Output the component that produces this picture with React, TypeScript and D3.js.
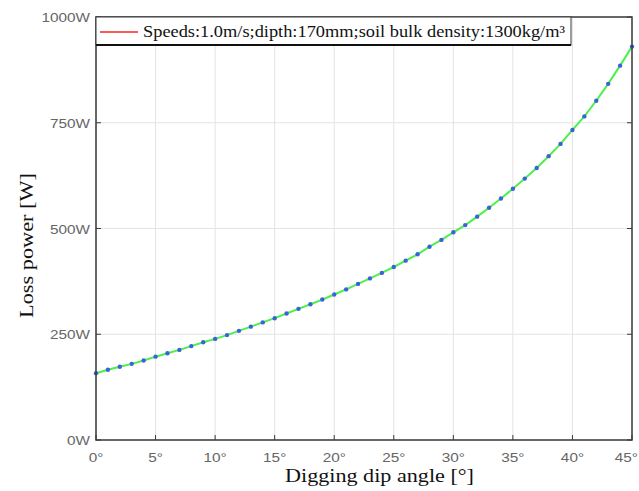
import { useRef, useEffect } from 'react';
import * as d3 from 'd3';

// dip angle (deg) and loss power (W)
const angles = [0, 1, 2, 3, 4, 5, 6, 7, 8, 9, 10, 11, 12, 13, 14, 15, 16, 17, 18, 19, 20, 21, 22,
  23, 24, 25, 26, 27, 28, 29, 30, 31, 32, 33, 34, 35, 36, 37, 38, 39, 40, 41, 42, 43, 44, 45];
const lossPower = [158, 166, 173, 180, 188, 197, 205, 213, 222, 231, 239, 248, 258, 268, 278, 288,
  299, 310, 321, 332, 344, 356, 369, 382, 395, 409, 424, 439, 457, 473, 491, 508, 528, 549, 571,
  594, 618, 643, 671, 700, 733, 765, 802, 842, 885, 930];

const xTicks = [0, 5, 10, 15, 20, 25, 30, 35, 40, 45];
const yTicks = [0, 250, 500, 750, 1000];
const legendLabel = 'Speeds:1.0m/s;dipth:170mm;soil bulk density:1300kg/m³';

const W = 639;
const H = 491;
const margin = { left: 96, right: 7, top: 17, bottom: 51 };
const sans = 'Liberation Sans, Arial, sans-serif';
const serif = 'Liberation Serif, Times New Roman, serif';

const App = () => {
  const svgRef = useRef(null);

  useEffect(() => {
    const svg = d3.select(svgRef.current);
    svg.selectAll('*').remove();

    const x = d3.scaleLinear().domain([0, 45]).range([margin.left, W - margin.right]);
    const y = d3.scaleLinear().domain([0, 1000]).range([H - margin.bottom, margin.top]);
    const [x0, x1] = x.range();
    const [y0, y1] = y.range();

    svg.append('rect').attr('x', x0).attr('y', y1).attr('width', x1 - x0).attr('height', y0 - y1).attr('fill', '#fff');

    // grid
    const grid = svg.append('g').attr('stroke', '#e3e3e3').attr('stroke-width', 1);
    grid.selectAll('.gx').data(xTicks).enter().append('line')
      .attr('x1', d => x(d)).attr('x2', d => x(d)).attr('y1', y0).attr('y2', y1);
    grid.selectAll('.gy').data(yTicks).enter().append('line')
      .attr('x1', x0).attr('x2', x1).attr('y1', d => y(d)).attr('y2', d => y(d));

    // line + markers
    const pts = angles.map((a, i) => [a, lossPower[i]]);
    svg.append('path')
      .datum(pts)
      .attr('fill', 'none')
      .attr('stroke', '#4cf04c')
      .attr('stroke-width', 2)
      .attr('d', d3.line().x(d => x(d[0])).y(d => y(d[1])));
    svg.selectAll('.pt').data(pts).enter().append('circle')
      .attr('cx', d => x(d[0])).attr('cy', d => y(d[1]))
      .attr('r', 2.2).attr('fill', '#3b63d8');

    // box
    svg.append('rect').attr('x', x0).attr('y', y1).attr('width', x1 - x0).attr('height', y0 - y1)
      .attr('fill', 'none').attr('stroke', '#3a3a3a').attr('stroke-width', 1.5);

    // inward ticks
    const tk = svg.append('g').attr('stroke', '#3a3a3a').attr('stroke-width', 1);
    tk.selectAll('.tb').data(xTicks).enter().append('line')
      .attr('x1', d => x(d)).attr('x2', d => x(d)).attr('y1', y0).attr('y2', y0 - 5);
    tk.selectAll('.tl').data(yTicks).enter().append('line')
      .attr('x1', x0).attr('x2', x0 + 5).attr('y1', d => y(d)).attr('y2', d => y(d));
    tk.selectAll('.tr').data(yTicks).enter().append('line')
      .attr('x1', x1).attr('x2', x1 - 5).attr('y1', d => y(d)).attr('y2', d => y(d));

    // tick labels (the source picture is stretched a bit horizontally)
    svg.selectAll('.xl').data(xTicks).enter().append('text')
      .attr('transform', (d, i) => i === xTicks.length - 1
        ? `translate(${W - 1},${y0 + 22}) scale(1.18,1)`
        : `translate(${x(d)},${y0 + 22}) scale(1.18,1)`)
      .attr('text-anchor', (d, i) => i === xTicks.length - 1 ? 'end' : 'middle')
      .attr('font-family', sans).attr('font-size', 13)
      .attr('fill', '#666')
      .text(d => `${d}°`);
    svg.selectAll('.yl').data(yTicks).enter().append('text')
      .attr('transform', d => `translate(${x0 - 6},${y(d) + 5}) scale(1.18,1)`)
      .attr('text-anchor', 'end')
      .attr('font-family', sans).attr('font-size', 13)
      .attr('fill', '#666')
      .text(d => `${d}W`);

    // axis titles
    svg.append('text')
      .attr('x', 285).attr('y', 482)
      .attr('textLength', 189).attr('lengthAdjust', 'spacingAndGlyphs')
      .attr('font-family', serif).attr('font-size', 19)
      .attr('fill', '#111')
      .text('Digging dip angle [°]');
    svg.append('text')
      .attr('transform', 'translate(33,318) rotate(-90)')
      .attr('textLength', 145).attr('lengthAdjust', 'spacingAndGlyphs')
      .attr('font-family', serif).attr('font-size', 19)
      .attr('fill', '#111')
      .text('Loss power [W]');

    // legend
    const lg = svg.append('g');
    lg.append('rect').attr('x', x0).attr('y', y1).attr('width', 475).attr('height', 28)
      .attr('fill', '#fff').attr('stroke', '#3a3a3a').attr('stroke-width', 1);
    lg.append('line').attr('x1', x0).attr('x2', x0 + 475).attr('y1', y1 + 28).attr('y2', y1 + 28)
      .attr('stroke', '#111').attr('stroke-width', 2);
    lg.append('line').attr('x1', 100).attr('x2', 138).attr('y1', y1 + 15).attr('y2', y1 + 15)
      .attr('stroke', '#ff2020').attr('stroke-width', 1.5);
    lg.append('text').attr('x', 143).attr('y', y1 + 20)
      .attr('textLength', 422).attr('lengthAdjust', 'spacingAndGlyphs')
      .attr('font-family', serif).attr('font-size', 16.5)
      .attr('fill', '#111')
      .text(legendLabel);
  }, []);

  return (
    <svg ref={svgRef} width={W} height={H}
      style={{ position: 'absolute', left: 0, top: 0, background: '#fff' }} />
  );
};

export default App;
